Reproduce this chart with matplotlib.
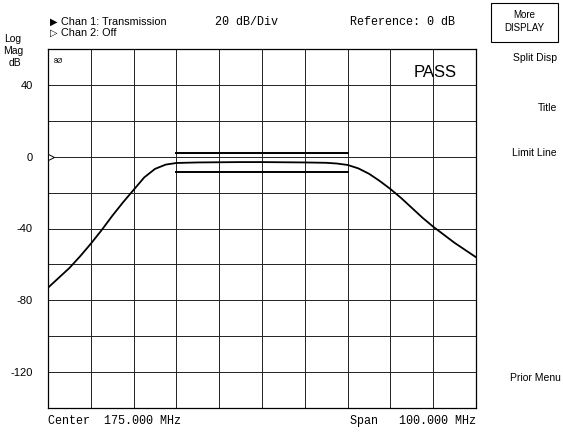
import matplotlib
matplotlib.use("Agg")
import matplotlib.pyplot as plt

# trace (Chan 1: Transmission), MHz / dB
freq = [125, 127.5, 130, 132.5, 135, 137.5, 140, 142.5, 145, 147.5, 150, 152.5,
        155, 160, 165, 170, 175, 180, 185, 190, 192.5, 195, 197.5, 200, 202.5,
        205, 207.5, 210, 212.5, 215, 217.5, 220, 222.5, 225]
mag = [-73, -67.5, -62, -55.5, -48.5, -41, -33, -25.5, -18.5, -11.5, -6.8, -4.4,
       -3.5, -3.2, -3.1, -3.0, -3.0, -3.1, -3.2, -3.4, -3.8, -4.6, -6.5, -9.5, -13.5,
       -18, -23, -28.5, -34, -39, -43.5, -48, -52, -56]

# limit lines
limit_start, limit_stop = 155, 195
limit_upper, limit_lower = 2, -8.5

yticks = [60, 40, 20, 0, -20, -40, -60, -80, -100, -120, -140]
ylabels = ['', '40', '', '0', '', '-40', '', '-80', '', '-120', '']
xticks = [125, 135, 145, 155, 165, 175, 185, 195, 205, 215, 225]

W, H = 563, 432


def fx(x):
    return x / W


def fy(y):
    return 1 - y / H


fig = plt.figure(figsize=(5.63, 4.32), dpi=100)
plt.rcParams['font.family'] = ['Liberation Sans', 'DejaVu Sans']
ax = fig.add_axes([fx(48), fy(408), fx(476) - fx(48), fy(49) - fy(408)])

ax.plot(freq, mag, color='black', linewidth=1.3, zorder=3)
ax.plot([limit_start, limit_stop], [limit_upper, limit_upper], color='black', linewidth=1.4, zorder=3)
ax.plot([limit_start, limit_stop], [limit_lower, limit_lower], color='black', linewidth=1.4, zorder=3)

ax.set_xlim(125, 225)
ax.set_ylim(-140, 60)
ax.set_xticks(xticks)
ax.set_xticklabels([''] * len(xticks))
ax.set_yticks(yticks)
ax.set_yticklabels(ylabels, fontsize=8)
ax.tick_params(length=0, pad=11)
ax.grid(True, color='#222222', linewidth=0.7)
for s in ax.spines.values():
    s.set_linewidth(0.9)

# reference marker
ax.plot([125.6], [0], marker='>', markersize=5, markerfacecolor='white',
        markeredgecolor='black', markeredgewidth=0.7, clip_on=False, zorder=4)

ax.text(0.013, 0.975, '8Ø', transform=ax.transAxes, fontsize=5, va='top')
ax.text(0.955, 0.955, 'PASS', transform=ax.transAxes, fontsize=12, ha='right', va='top')

# header
fig.text(fx(50), fy(22), '▶', fontsize=7, va='center', family='DejaVu Sans')
fig.text(fx(61), fy(22), 'Chan 1: Transmission', fontsize=7.8, va='center')
fig.text(fx(50), fy(33), '▷', fontsize=7, va='center', family='DejaVu Sans')
fig.text(fx(61), fy(33), 'Chan 2: Off', fontsize=7.8, va='center')
fig.text(fx(215), fy(22), '20 dB/Div', fontsize=8.5, va='center', family='Liberation Mono')
fig.text(fx(350), fy(22), 'Reference: 0 dB', fontsize=8.5, va='center', family='Liberation Mono')

fig.text(fx(13), fy(39), 'Log', fontsize=7.5, ha='center', va='center')
fig.text(fx(13), fy(51), 'Mag', fontsize=7.5, ha='center', va='center')
fig.text(fx(15), fy(63), 'dB', fontsize=7.5, ha='center', va='center')

# footer
fig.text(fx(48), fy(421), 'Center  175.000 MHz', fontsize=8.5, va='center', family='Liberation Mono')
fig.text(fx(476), fy(421), 'Span   100.000 MHz', fontsize=8.5, va='center', ha='right', family='Liberation Mono')

# softkey menu
box = plt.Rectangle((fx(491), fy(42)), fx(558) - fx(491), fy(3) - fy(42),
                    transform=fig.transFigure, fill=False, linewidth=0.8, color='black')
fig.add_artist(box)
fig.text(fx(524), fy(15), 'More', fontsize=7, ha='center', va='center')
fig.text(fx(524), fy(28), 'DISPLAY', fontsize=7, ha='center', va='center')
fig.text(fx(557), fy(58), 'Split Disp', fontsize=7.5, ha='right', va='center')
fig.text(fx(557), fy(108), 'Title', fontsize=7.5, ha='right', va='center')
fig.text(fx(557), fy(153), 'Limit Line', fontsize=7.5, ha='right', va='center')
fig.text(fx(561), fy(378), 'Prior Menu', fontsize=7.5, ha='right', va='center')

fig.savefig('out.png', dpi=100)
